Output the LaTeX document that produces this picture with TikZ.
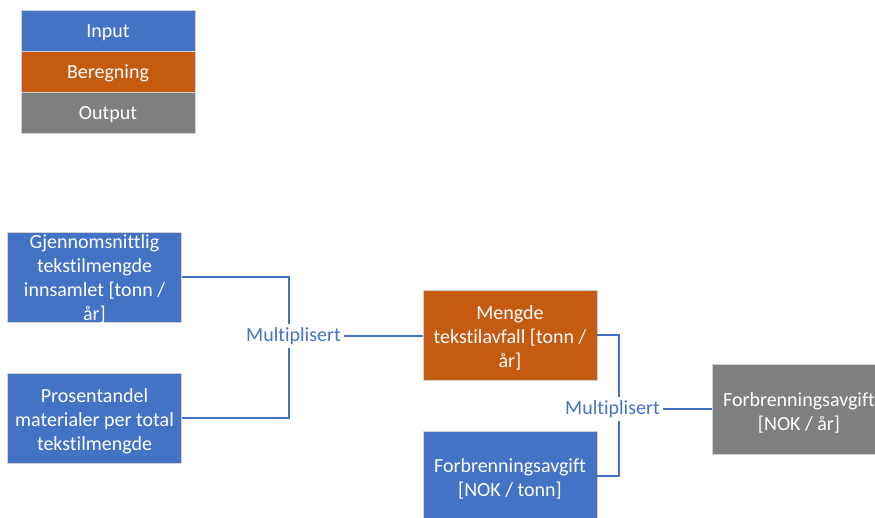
\documentclass[tikz,border=0pt]{standalone}
\usepackage{fontspec}
\setmainfont{Carlito}[Ligatures=NoCommon]
\definecolor{inblue}{HTML}{4472C4}
\definecolor{calcorange}{HTML}{C55A11}
\definecolor{outgray}{HTML}{7F7F7F}
\begin{document}
\begin{tikzpicture}[x=1pt,y=-1pt,
  every node/.style={font=\fontsize{20}{24.2}\selectfont},
  box/.style={draw=white!82!black, line width=0.6pt, text=white, align=center,
    minimum width=174pt, minimum height=90pt, inner sep=0pt},
  inbox/.style={box, fill=inblue},
  calcbox/.style={box, fill=calcorange},
  outbox/.style={box, fill=outgray},
  boxtext/.style={text=white, align=center, inner sep=0pt},
  legbox/.style={draw=white!82!black, line width=0.6pt, text=white,
    minimum width=174pt, minimum height=41pt, inner sep=0pt,
    text height=16pt, text depth=2pt},
  oplabel/.style={text=inblue, inner sep=3pt},
  link/.style={draw=inblue, line width=1.5pt}]
\useasboundingbox (0,0) rectangle (875,517);
% first lines get a tall strut so the text block sits a little lower
\newcommand{\topstrut}[1][20pt]{\rule{0pt}{#1}}

% legend
\node[legbox, fill=inblue]     (legin)   at (108,30.5)  {Input};
\node[legbox, fill=calcorange] (legcalc) at (108,71.5)  {Beregning};
\node[legbox, fill=outgray]    (legout)  at (108,112.5) {Output};

% inputs and results (the four-line text runs over its box, so it is a label)
\node[inbox, label={[boxtext]center:\topstrut[18pt]Gjennomsnittlig\\tekstilmengde\\innsamlet [tonn /\\år]}]
  (snitt) at (94.5,277) {};
\node[inbox] (andel) at (94.5,418) {\topstrut Prosentandel\\materialer per total\\tekstilmengde};
\node[calcbox] (mengde) at (510,335) {\topstrut Mengde\\tekstilavfall [tonn /\\år]};
\node[inbox] (avgtonn) at (510,476) {\topstrut Forbrenningsavgift\\{}[NOK / tonn]};
\node[outbox] (avgaar) at (799,409.5) {\topstrut Forbrenningsavgift\\{}[NOK / år]};

% operations
\node[oplabel] (mult1) at (293.5,336) {Multiplisert};
\node[oplabel] (mult2) at (612.5,409) {Multiplisert};

% connectors
\draw[link] (snitt.east) -| ([xshift=-4.5pt]mult1.north);
\draw[link] (andel.east) -| ([xshift=-4.5pt]mult1.south);
\draw[link] (mult1.east) -- (mengde.west |- mult1.east);
\draw[link] (mengde.east) -| ([xshift=6.5pt]mult2.north);
\draw[link] (avgtonn.east) -| ([xshift=6.5pt]mult2.south);
\draw[link] (mult2.east) -- (avgaar.west |- mult2.east);
\end{tikzpicture}
\end{document}
